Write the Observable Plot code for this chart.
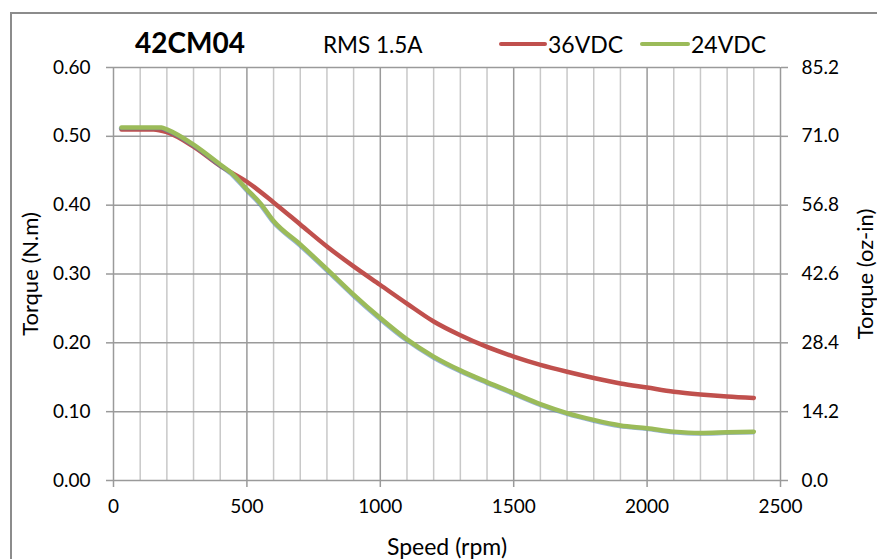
<!DOCTYPE html>
<html>
<head>
<meta charset="utf-8">
<script src="https://cdn.jsdelivr.net/npm/d3@7"></script>
<script src="https://cdn.jsdelivr.net/npm/@observablehq/plot@0.6"></script>
<style>
  html, body { margin: 0; padding: 0; background: #fff; overflow: hidden; }
  #wrap { position: relative; width: 877px; height: 559px; overflow: hidden; font-family: Lato, "Open Sans", sans-serif; }
  #border { position: absolute; left: 10px; top: 12px; width: 900px; height: 600px; border: 2px solid #8c8c8c; box-sizing: border-box; }
  #chart { position: absolute; left: 0; top: 0; }
  #overlay { position: absolute; left: 0; top: 0; }
</style>
</head>
<body>
<div id="wrap">
  <div id="border"></div>
  <div id="chart"></div>
  <svg id="overlay" width="877" height="80"></svg>
</div>
<script>
// ---- data ----
const title = "42CM04";
const subtitle = "RMS 1.5A";
const seriesNames = ["36VDC", "24VDC"];
const seriesColors = ["#C0504D", "#9BBB59"];
const shadowColor = "#4F81BD";

const speed36 = [30, 100, 150, 200, 300, 400, 500, 600, 700, 800, 900, 1000, 1100, 1200, 1300, 1400, 1500, 1600, 1700, 1800, 1900, 2000, 2100, 2200, 2300, 2400];
const torque36 = [0.510, 0.510, 0.510, 0.506, 0.485, 0.457, 0.434, 0.404, 0.372, 0.340, 0.311, 0.284, 0.257, 0.231, 0.211, 0.194, 0.180, 0.168, 0.158, 0.149, 0.141, 0.135, 0.129, 0.125, 0.122, 0.120];

const speed24 = [30, 100, 180, 200, 300, 400, 450, 500, 550, 600, 700, 800, 900, 1000, 1100, 1200, 1300, 1400, 1500, 1600, 1700, 1800, 1900, 2000, 2100, 2200, 2300, 2400];
const torque24 = [0.513, 0.513, 0.513, 0.510, 0.488, 0.459, 0.444, 0.423, 0.403, 0.377, 0.343, 0.307, 0.270, 0.236, 0.205, 0.180, 0.160, 0.143, 0.127, 0.111, 0.098, 0.088, 0.080, 0.076, 0.071, 0.069, 0.070, 0.071];

const xTicks = [0, 500, 1000, 1500, 2000, 2500];
const xMinor = [100, 200, 300, 400, 600, 700, 800, 900, 1100, 1200, 1300, 1400, 1600, 1700, 1800, 1900, 2100, 2200, 2300, 2400];
const yTicks = [0, 0.1, 0.2, 0.3, 0.4, 0.5, 0.6];
const yLabelsLeft = ["0.00", "0.10", "0.20", "0.30", "0.40", "0.50", "0.60"];
const yLabelsRight = ["0.0", "14.2", "28.4", "42.6", "56.8", "71.0", "85.2"];
const xLabel = "Speed (rpm)";
const yLabelLeft = "Torque (N.m)";
const yLabelRight = "Torque (oz-in)";

const rows36 = speed36.map((s, i) => ({speed: s, torque: torque36[i]}));
const rows24 = speed24.map((s, i) => ({speed: s, torque: torque24[i]}));

const font = "Lato, 'Open Sans', sans-serif";

const plot = Plot.plot({
  width: 877,
  height: 559,
  marginLeft: 113,
  marginRight: 97,
  marginTop: 67,
  marginBottom: 79,
  style: {fontFamily: font, color: "#000", background: "transparent"},
  x: {domain: [0, 2500]},
  y: {domain: [0, 0.6]},
  marks: [
    Plot.ruleX(xMinor, {stroke: "#c8c8c8", strokeWidth: 1.5}),
    Plot.ruleX(xTicks, {stroke: "#9a9a9a", strokeWidth: 1.5}),
    Plot.ruleY(yTicks, {stroke: "#9a9a9a", strokeWidth: 1.5}),
    Plot.axisY({anchor: "left", ticks: yTicks, tickFormat: (d, i) => yLabelsLeft[i], tickSize: 7, tickPadding: 16, fontSize: 19, stroke: "#9a9a9a", strokeWidth: 1.5, label: null}),
    Plot.axisY({anchor: "right", ticks: yTicks, tickFormat: (d, i) => yLabelsRight[i], tickSize: 7, tickPadding: 14, fontSize: 19, stroke: "#9a9a9a", strokeWidth: 1.5, label: null}),
    Plot.axisX({anchor: "bottom", ticks: xTicks, tickFormat: d => String(d), tickSize: 7, tickPadding: 12, fontSize: 19, stroke: "#9a9a9a", strokeWidth: 1.5, label: null}),
    Plot.line(rows36, {x: "speed", y: "torque", stroke: seriesColors[0], strokeWidth: 4.5, curve: "monotone-x"}),
    Plot.line(rows24, {x: "speed", y: "torque", stroke: shadowColor, strokeWidth: 4, strokeOpacity: 0.6, dx: -0.8, dy: 0.8, curve: "monotone-x"}),
    Plot.line(rows24, {x: "speed", y: "torque", stroke: seriesColors[1], strokeWidth: 4.5, curve: "monotone-x"}),
    Plot.text([xLabel], {text: d => d, frameAnchor: "bottom", dy: 67, fontSize: 23, lineAnchor: "middle"}),
    Plot.text([yLabelLeft], {text: d => d, frameAnchor: "left", dx: -83, rotate: -90, fontSize: 22, textAnchor: "middle", lineAnchor: "middle"}),
    Plot.text([yLabelRight], {text: d => d, frameAnchor: "right", dx: 85, rotate: -90, fontSize: 22, textAnchor: "middle", lineAnchor: "middle"})
  ]
});
document.getElementById("chart").appendChild(plot);

// ---- title and legend ----
const ov = d3.select("#overlay").style("font-family", font);
ov.append("text").attr("x", 135).attr("y", 53).attr("font-size", 28).attr("font-weight", "bold").text(title);
ov.append("text").attr("x", 323).attr("y", 53).attr("font-size", 22.5).text(subtitle);
const legendPos = [{x1: 501, x2: 545, tx: 548}, {x1: 642, x2: 688, tx: 691}];
seriesNames.forEach((name, i) => {
  const p = legendPos[i];
  ov.append("line").attr("x1", p.x1).attr("x2", p.x2).attr("y1", 44).attr("y2", 44)
    .attr("stroke", seriesColors[i]).attr("stroke-width", 4).attr("stroke-linecap", "round");
  ov.append("text").attr("x", p.tx).attr("y", 53).attr("font-size", 23).text(name);
});
</script>
</body>
</html>
